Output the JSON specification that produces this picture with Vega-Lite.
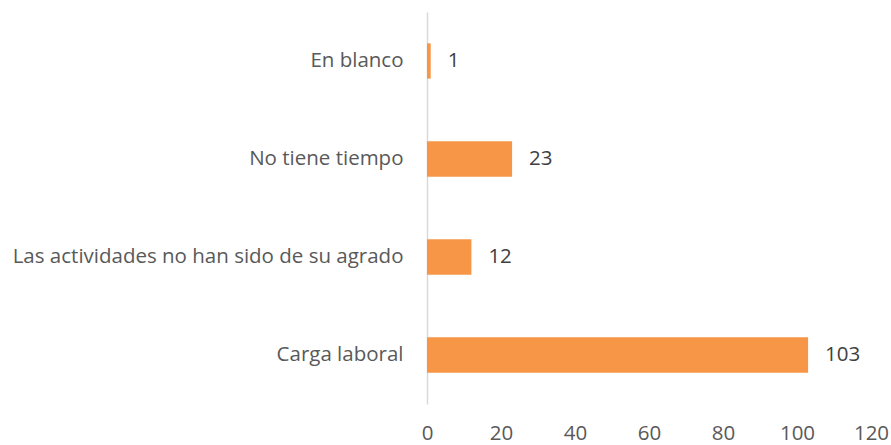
{
  "$schema": "https://vega.github.io/schema/vega-lite/v6.json",
  "width": 444,
  "height": 392,
  "autosize": {"type": "none"},
  "padding": {"left": 427, "top": 12, "right": 20, "bottom": 41},
  "background": "white",
  "config": {"view": {"stroke": null}, "font": "Open Sans"},
  "data": {
    "values": [
      {"cat": "En blanco", "n": 1},
      {"cat": "No tiene tiempo", "n": 23},
      {"cat": "Las actividades no han sido de su agrado", "n": 12},
      {"cat": "Carga laboral", "n": 103}
    ]
  },
  "encoding": {
    "y": {
      "field": "cat", "type": "nominal", "sort": null,
      "scale": {"paddingInner": 0.64, "paddingOuter": 0.32},
      "axis": {
        "title": null, "ticks": false, "domainColor": "#d9d9d9", "domainWidth": 1.5,
        "labelFontSize": 20.5, "labelColor": "#595959", "labelPadding": 24, "labelLimit": 500
      }
    },
    "x": {
      "field": "n", "type": "quantitative",
      "scale": {"domain": [0, 120], "nice": false},
      "axis": {
        "title": null, "values": [0, 20, 40, 60, 80, 100, 120], "grid": false, "domain": false,
        "ticks": false, "labelFontSize": 20.5, "labelColor": "#595959", "labelPadding": 19,
        "labelFlush": false
      }
    }
  },
  "layer": [
    {"mark": {"type": "bar", "color": "#F79646"}},
    {
      "mark": {"type": "text", "align": "left", "dx": 17, "fontSize": 20.5, "color": "#404040"},
      "encoding": {"text": {"field": "n", "type": "quantitative"}}
    }
  ]
}
